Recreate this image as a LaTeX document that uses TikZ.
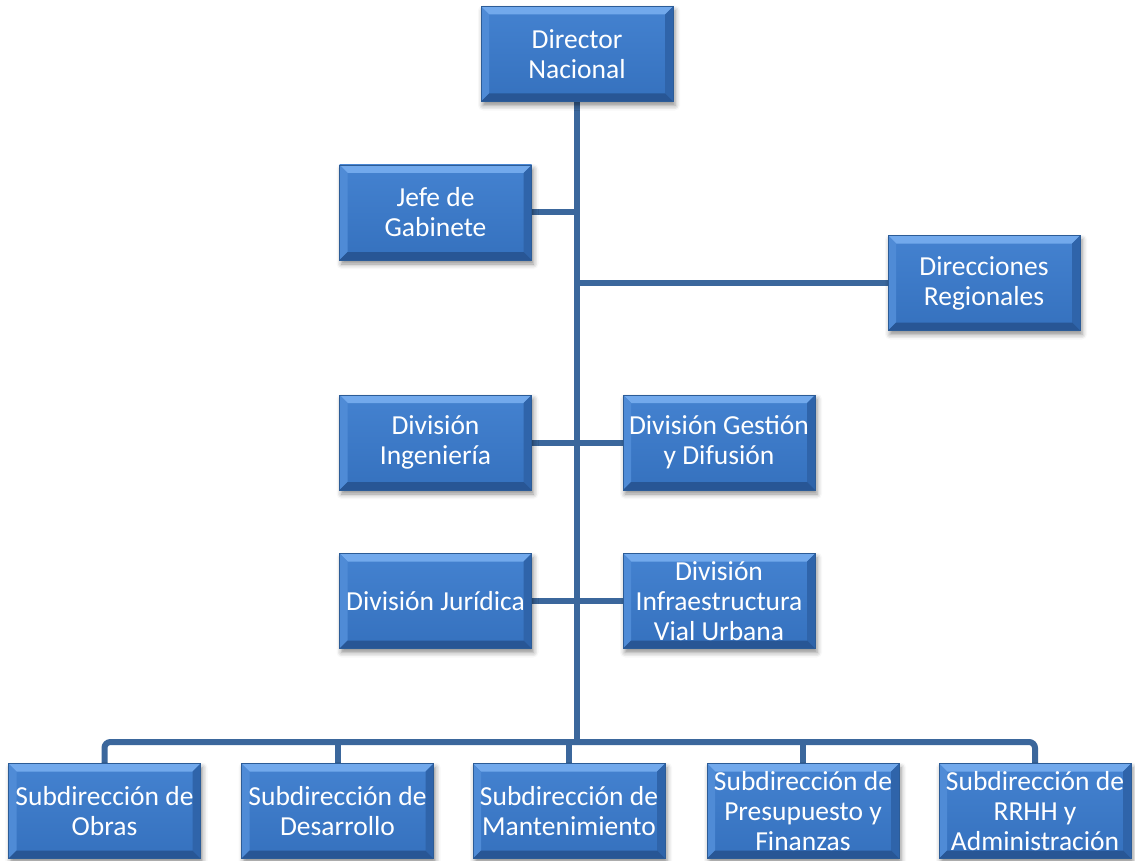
\documentclass[tikz,border=0pt]{standalone}
\usepackage{fontspec}
\setmainfont{Carlito}
\usetikzlibrary{shadows.blur,backgrounds}
\definecolor{boxblue}{HTML}{3A79C6}
\definecolor{boxtop}{HTML}{4482D0}
\definecolor{boxbot}{HTML}{3571BE}
\definecolor{bevtop}{HTML}{72A9EC}
\definecolor{bevleft}{HTML}{4F8BD6}
\definecolor{bevright}{HTML}{2F64AA}
\definecolor{bevbot}{HTML}{285695}
\definecolor{boxedge}{HTML}{2C5C97}
\definecolor{linkblue}{HTML}{3B679C}
\tikzset{
 orgbox/.style={draw=boxedge, line width=0.7pt, top color=boxtop, bottom color=boxbot,
  minimum width=192pt, minimum height=95pt, inner sep=0pt, align=center, text=white,
  font=\fontsize{27.5}{30}\selectfont,
  blur shadow={shadow xshift=2pt, shadow yshift=-4pt, shadow blur radius=5pt, shadow opacity=45},
  path picture={
   \def\bb{path picture bounding box}
   \fill[bevtop] (\bb.north west) -- (\bb.north east) -- ([shift={(-8pt,-8pt)}]\bb.north east) -- ([shift={(8pt,-8pt)}]\bb.north west) -- cycle;
   \fill[bevleft] (\bb.north west) -- ([shift={(8pt,-8pt)}]\bb.north west) -- ([shift={(8pt,8pt)}]\bb.south west) -- (\bb.south west) -- cycle;
   \fill[bevright] (\bb.north east) -- ([shift={(-8pt,-8pt)}]\bb.north east) -- ([shift={(-8pt,8pt)}]\bb.south east) -- (\bb.south east) -- cycle;
   \fill[bevbot] (\bb.south west) -- ([shift={(8pt,8pt)}]\bb.south west) -- ([shift={(-8pt,8pt)}]\bb.south east) -- (\bb.south east) -- cycle;
  }},
 link/.style={draw=linkblue, line width=6pt}
}
\begin{document}
\begin{tikzpicture}[x=1pt,y=-1pt]
\useasboundingbox (0,0) rectangle (1135,861);
\node[orgbox] (dir) at (577,54) {Director\\Nacional};
\node[orgbox] (jefe) at (435.5,212.5) {Jefe de\\Gabinete};
\node[orgbox] (reg) at (984,283) {Direcciones\\Regionales};
\node[orgbox] (ing) at (435.5,442.5) {División\\Ingeniería};
\node[orgbox] (ges) at (719,442.5) {División Gestión\\y Difusión};
\node[orgbox] (jur) at (435.5,601) {División Jurídica};
\node[orgbox] (inf) at (719,601) {División\\Infraestructura\\Vial Urbana};
\node[orgbox] (obras) at (104.5,811) {Subdirección de\\Obras};
\node[orgbox] (des) at (337.5,811) {Subdirección de\\Desarrollo};
\node[orgbox] (man) at (569,811) {Subdirección de\\Mantenimiento};
\node[orgbox] (pre) at (803,811) {Subdirección de\\Presupuesto y\\Finanzas};
\node[orgbox] (rrhh) at (1035,811) {Subdirección de\\RRHH y\\Administración};
\coordinate (bus) at (577,742);
\begin{scope}[on background layer]
\draw[link] (dir.south) -- (bus);
\draw[link] (jefe.east) -- (jefe.east -| dir.south);
\draw[link] (reg.west) -- (reg.west -| dir.south);
\draw[link] (ing.east) -- (ges.west);
\draw[link] (jur.east) -- (inf.west);
\draw[link, rounded corners=6pt] (obras.north) -- (obras.north |- bus) -- (rrhh.north |- bus) -- (rrhh.north);
\draw[link] (des.north) -- (des.north |- bus);
\draw[link] (man.north) -- (man.north |- bus);
\draw[link] (pre.north) -- (pre.north |- bus);
\end{scope}
\end{tikzpicture}
\end{document}
